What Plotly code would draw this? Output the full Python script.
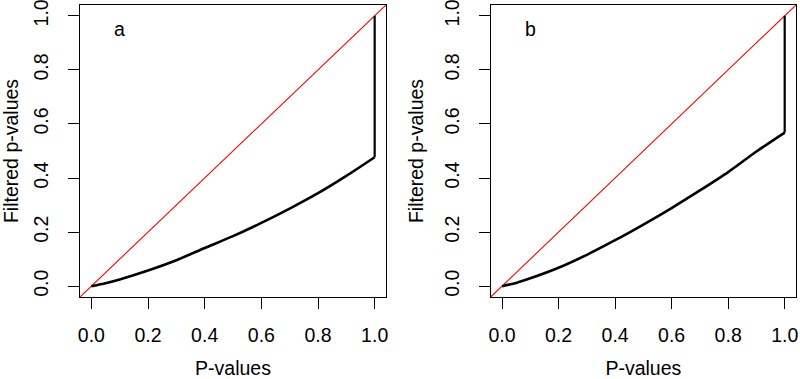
import plotly.graph_objects as go

# Data
p_values = [0.0, 0.05, 0.1, 0.2, 0.3, 0.4, 0.5, 0.6, 0.7, 0.8, 0.9, 1.0]
filtered_a = [0.0, 0.011, 0.025, 0.058, 0.096, 0.141, 0.185, 0.234, 0.287, 0.344, 0.408, 0.477]
filtered_b = [0.0, 0.012, 0.029, 0.068, 0.116, 0.170, 0.228, 0.289, 0.354, 0.422, 0.498, 0.568]
end_value = 1.0
panel_labels = ["a", "b"]
tick_vals = [0.0, 0.2, 0.4, 0.6, 0.8, 1.0]
tick_text = ["0.0", "0.2", "0.4", "0.6", "0.8", "1.0"]
axis_range = [-0.04, 1.04]

FONT = "Liberation Sans, Arial, Helvetica, sans-serif"
FS = 19.5

fig = go.Figure()

series = [filtered_a, filtered_b]
for i, vals in enumerate(series):
    xa = "x" if i == 0 else "x2"
    ya = "y" if i == 0 else "y2"
    # identity line
    fig.add_trace(go.Scatter(x=axis_range, y=axis_range, mode="lines",
                             line=dict(color="#ff0000", width=1.1),
                             xaxis=xa, yaxis=ya, showlegend=False))
    # filtered curve
    fig.add_trace(go.Scatter(x=p_values, y=vals, mode="lines",
                             line=dict(color="black", width=2.6, shape="spline", smoothing=0.6),
                             xaxis=xa, yaxis=ya, showlegend=False))
    # vertical jump at p = 1
    fig.add_trace(go.Scatter(x=[p_values[-1], p_values[-1]], y=[vals[-1], end_value],
                             mode="lines", line=dict(color="black", width=2.2),
                             xaxis=xa, yaxis=ya, showlegend=False))
    fig.add_annotation(x=0.1, y=0.95, xref=xa, yref=ya, text=panel_labels[i],
                       showarrow=False, font=dict(size=FS, color="black", family=FONT))

axis_common = dict(range=axis_range, showgrid=False, zeroline=False, automargin=False,
                   showline=True, mirror=True, linecolor="black", linewidth=1,
                   ticks="outside", ticklen=11, tickwidth=1, tickcolor="black",
                   tickvals=tick_vals, ticktext=tick_text, ticklabeloverflow="allow",
                   tickfont=dict(size=FS, color="black", family=FONT))

xdom = [[0.1, 0.4825], [0.6134, 0.995]]
ydom = [0.2164, 0.9868]

fig.update_layout(
    width=800, height=379,
    margin=dict(l=0, r=0, t=0, b=0),
    paper_bgcolor="white", plot_bgcolor="white",
    font=dict(family=FONT, size=FS, color="black"),
    xaxis=dict(domain=xdom[0], anchor="y", ticklabelstandoff=10,
               title=dict(text="P-values", font=dict(size=FS), standoff=17), **axis_common),
    yaxis=dict(domain=ydom, anchor="x", tickangle=-90, ticklabelstandoff=12,
               title=dict(text="Filtered p-values", font=dict(size=FS), standoff=12), **axis_common),
    xaxis2=dict(domain=xdom[1], anchor="y2", ticklabelstandoff=10,
                title=dict(text="P-values", font=dict(size=FS), standoff=17), **axis_common),
    yaxis2=dict(domain=ydom, anchor="x2", tickangle=-90, ticklabelstandoff=12,
                title=dict(text="Filtered p-values", font=dict(size=FS), standoff=12), **axis_common),
)

fig.write_html("out.html", config={"displayModeBar": False, "staticPlot": True},
               post_script="document.body.style.margin='0';document.body.style.overflow='hidden';")
